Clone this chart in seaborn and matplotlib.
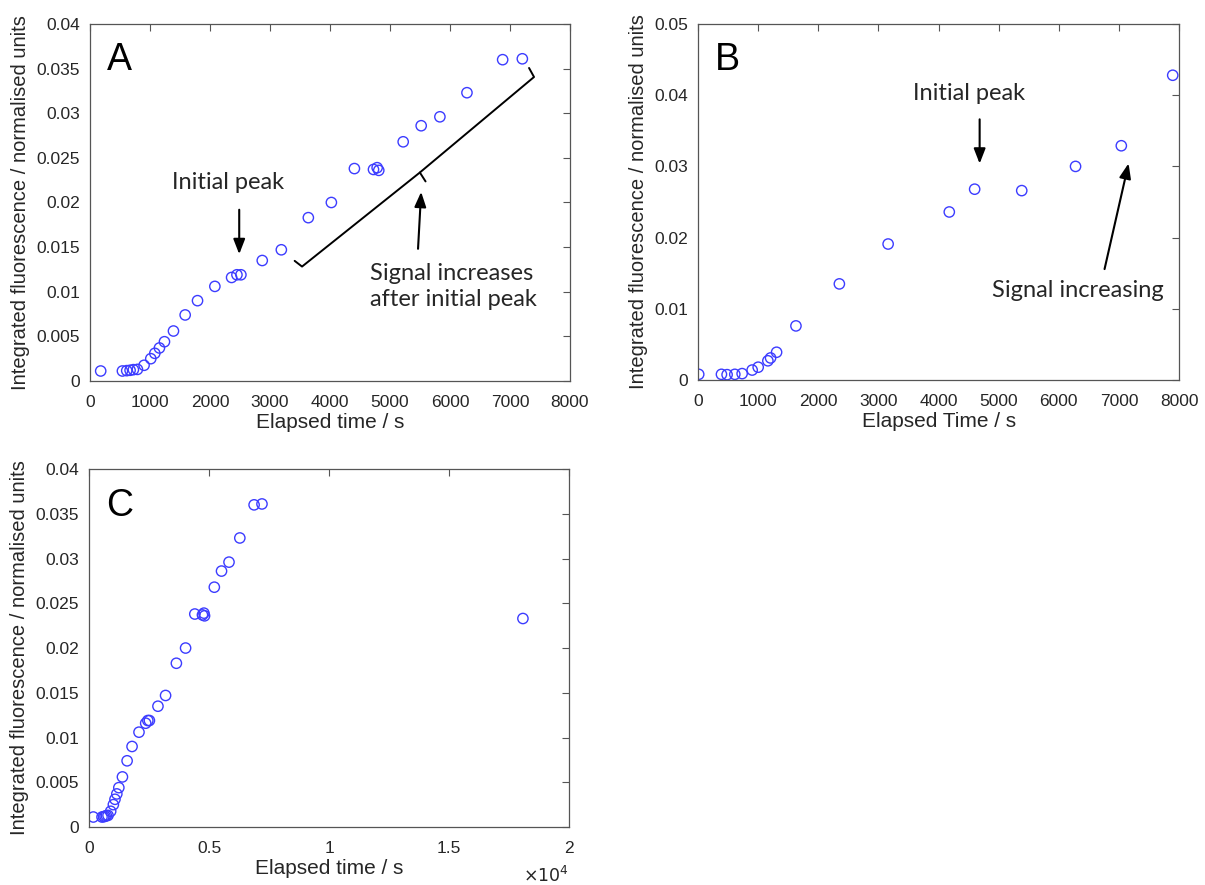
import numpy as np
import pandas as pd
import matplotlib
matplotlib.use("Agg")
import matplotlib.pyplot as plt
from matplotlib.ticker import FuncFormatter
import seaborn as sns

# panel A (and C) data, elapsed time in s
time_a = [178, 540, 612, 668, 723, 790, 901, 1013, 1080, 1157, 1241, 1391, 1586,
          1792, 2081, 2360, 2449, 2515, 2871, 3189, 3639, 4023, 4407, 4725, 4786,
          4813, 5220, 5520, 5832, 6283, 6878, 7206]
fluor_a = [0.00112, 0.00112, 0.00116, 0.0012, 0.00127, 0.0013, 0.00176, 0.0025,
           0.0031, 0.0037, 0.0044, 0.0056, 0.0074, 0.0090, 0.0106, 0.0116, 0.0119,
           0.0119, 0.0135, 0.0147, 0.0183, 0.0200, 0.0238, 0.0237, 0.0239, 0.0236,
           0.0268, 0.0286, 0.0296, 0.0323, 0.0360, 0.0361]

# panel B data
time_b = [11, 389, 483, 611, 733, 900, 1000, 1161, 1206, 1306, 1628, 2350, 3161,
          4178, 4600, 5383, 6278, 7039, 7894]
fluor_b = [0.0008, 0.0008, 0.00075, 0.0008, 0.0009, 0.0014, 0.0018, 0.0027, 0.0031,
           0.0039, 0.0076, 0.0135, 0.0191, 0.0236, 0.0268, 0.0266, 0.0300, 0.0329,
           0.0428]

# panel C = panel A plus late point
time_c = time_a + [18080]
fluor_c = fluor_a + [0.0233]

sns.set_style("white")
plt.rcParams['font.family'] = ['Liberation Sans', 'DejaVu Sans']

TXT = '#262626'
MK = '#3c3cff'
ANN_FONT = ['Lato', 'DejaVu Sans']

fig = plt.figure(figsize=(12.05, 8.85), dpi=100)
axA = fig.add_axes([0.0747, 0.5695, 0.3983, 0.4034])
axB = fig.add_axes([0.5793, 0.5706, 0.3992, 0.4023])
axC = fig.add_axes([0.0739, 0.0655, 0.3983, 0.4045])

fmt = FuncFormatter(lambda v, p: f'{v:g}')


def style(ax, xlabel):
    for s in ax.spines.values():
        s.set_color('#555555')
        s.set_linewidth(0.9)
    ax.tick_params(direction='in', top=True, right=True, length=5, width=0.8,
                   color='#555555', labelsize=12.5, labelcolor=TXT, pad=7)
    ax.tick_params(axis='x', pad=10)
    ax.set_xlabel(xlabel, fontsize=15, color=TXT, labelpad=2)
    ax.set_ylabel('Integrated fluorescence / normalised units', fontsize=14.5,
                  color=TXT, labelpad=5)
    ax.yaxis.set_major_formatter(fmt)


def scatter(ax, x, y):
    df = pd.DataFrame({'t': x, 'f': y})
    sns.scatterplot(data=df, x='t', y='f', ax=ax, marker='o', s=55,
                    fc='none', ec=MK, linewidth=1.0, legend=False)


ARROW = dict(arrowstyle='-|>,head_width=0.35,head_length=0.9', color='k', lw=1.5)

# ---- A
scatter(axA, time_a, fluor_a)
axA.set_xlim(0, 8000)
axA.set_ylim(0, 0.04)
axA.set_xticks(np.arange(0, 8001, 1000))
axA.set_yticks(np.arange(0, 0.0401, 0.005))
style(axA, 'Elapsed time / s')
axA.text(0.035, 0.87, 'A', transform=axA.transAxes, fontsize=27, color='k')
axA.text(2298, 0.0222, 'Initial peak', fontsize=17, family=ANN_FONT,
         ha='center', va='center')
axA.annotate('', xy=(2487, 0.0139), xytext=(2487, 0.0195), arrowprops=ARROW)
axA.plot([3411, 3534, 5498, 7401, 7318], [0.01346, 0.01282, 0.02336, 0.03406, 0.03507],
         color='k', lw=1.4)
axA.plot([5498, 5593], [0.02336, 0.02236], color='k', lw=1.4)
axA.text(4663, 0.0106, 'Signal increases\nafter initial peak', fontsize=17,
         family=ANN_FONT, ha='left', va='center', linespacing=1.25)
axA.annotate('', xy=(5522, 0.0215), xytext=(5465, 0.0145), arrowprops=ARROW)

# ---- B
scatter(axB, time_b, fluor_b)
axB.set_xlim(0, 8000)
axB.set_ylim(0, 0.05)
axB.set_xticks(np.arange(0, 8001, 1000))
axB.set_yticks(np.arange(0, 0.0501, 0.01))
style(axB, 'Elapsed Time / s')
axB.text(0.035, 0.87, 'B', transform=axB.transAxes, fontsize=27, color='k')
axB.text(4500, 0.0403, 'Initial peak', fontsize=17, family=ANN_FONT,
         ha='center', va='center')
axB.annotate('', xy=(4683, 0.0300), xytext=(4683, 0.0370), arrowprops=ARROW)
axB.text(6322, 0.0126, 'Signal increasing', fontsize=17, family=ANN_FONT,
         ha='center', va='center')
axB.annotate('', xy=(7170, 0.0308), xytext=(6750, 0.0152), arrowprops=ARROW)

# ---- C
scatter(axC, time_c, fluor_c)
axC.set_xlim(0, 20000)
axC.set_ylim(0, 0.04)
axC.set_xticks(np.arange(0, 20001, 5000))
axC.set_yticks(np.arange(0, 0.0401, 0.005))
style(axC, 'Elapsed time / s')
axC.xaxis.set_major_formatter(FuncFormatter(lambda v, p: f'{v / 1e4:g}'))
axC.text(0.035, 0.87, 'C', transform=axC.transAxes, fontsize=27, color='k')
axC.text(1.0, -0.135, r'$\times10^{4}$', transform=axC.transAxes, fontsize=12.5,
         color=TXT, ha='right', va='center')

fig.savefig('out.png', dpi=100)
